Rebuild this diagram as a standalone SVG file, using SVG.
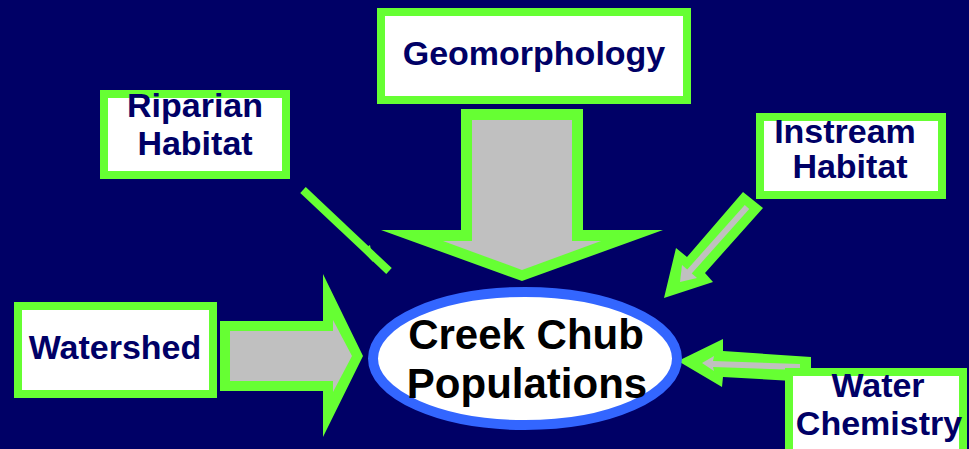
<svg xmlns="http://www.w3.org/2000/svg" width="969" height="449" viewBox="0 0 969 449">
<style>
.box{fill:#ffffff;stroke:#66ff33;stroke-width:8}
.lbl{font-family:"Liberation Sans",Arial,sans-serif;font-weight:bold;font-size:34px;fill:#000066;text-anchor:middle}
.main{font-family:"Liberation Sans",Arial,sans-serif;font-weight:bold;font-size:42px;fill:#000000;text-anchor:middle}
.aout{fill:#66ff33}
.ain{fill:#c0c0c0}
</style>
<rect x="0" y="0" width="969" height="449" fill="#000066"/>
<g id="connectors">
  <g id="arrow-geomorphology">
    <polygon class="aout" points="461,109 583,109 583,230 663,230 522,281 381,230 461,230"/>
    <polygon class="ain" points="472,120 572,120 572,241 601,241 522,270 443,241 472,241"/>
  </g>
  <g id="arrow-riparian">
    <line x1="303" y1="190" x2="389" y2="271" stroke="#66ff33" stroke-width="8"/>
    <polygon class="aout" points="362,250 370,245 373,262"/>
  </g>
  <g id="arrow-instream">
    <polygon class="aout" points="743,192 763,208 705,273 713,282 664,298 676,248 687,257"/>
    <line x1="747" y1="207" x2="689" y2="272" stroke="#c0c0c0" stroke-width="6"/>
    <polygon class="ain" points="680,282 682,265 697,278"/>
  </g>
  <g id="arrow-watershed">
    <polygon class="aout" points="220,321 323,321 323,274 363,356 323,437 323,391 220,391"/>
    <polygon class="ain" points="230,331 333,331 333,320 352,356 333,392 333,381 230,381"/>
  </g>
  <g id="arrow-water-chemistry">
    <polygon class="aout" points="678,361 723,339 723,351 811,357 811,382 723,377 722,387"/>
    <polygon class="ain" points="702,363 714,356 713,361 800,364 800,370 713,367 714,371"/>
  </g>
</g>
<g id="node-geomorphology">
  <rect class="box" x="381" y="12" width="306" height="88"/>
  <text class="lbl" x="534" y="65">Geomorphology</text>
</g>
<g id="node-riparian">
  <rect class="box" x="104" y="94" width="182" height="81"/>
  <text class="lbl" x="195" y="117">Riparian</text>
  <text class="lbl" x="195" y="155">Habitat</text>
</g>
<g id="node-instream">
  <rect class="box" x="760" y="117" width="182" height="78"/>
  <text class="lbl" x="845" y="143">Instream</text>
  <text class="lbl" x="850" y="178">Habitat</text>
</g>
<g id="node-watershed">
  <rect class="box" x="18" y="306" width="195" height="88"/>
  <text class="lbl" x="115" y="359">Watershed</text>
</g>
<g id="node-water-chemistry">
  <rect class="box" x="789" y="372" width="174" height="85"/>
  <text class="lbl" x="878" y="397">Water</text>
  <text class="lbl" x="879" y="435">Chemistry</text>
</g>
<g id="node-creek-chub">
  <ellipse cx="525" cy="358.5" rx="152" ry="66.5" fill="#ffffff" stroke="#3366ff" stroke-width="10"/>
  <text class="main" x="526" y="349">Creek Chub</text>
  <text class="main" x="527" y="398">Populations</text>
</g>
</svg>
